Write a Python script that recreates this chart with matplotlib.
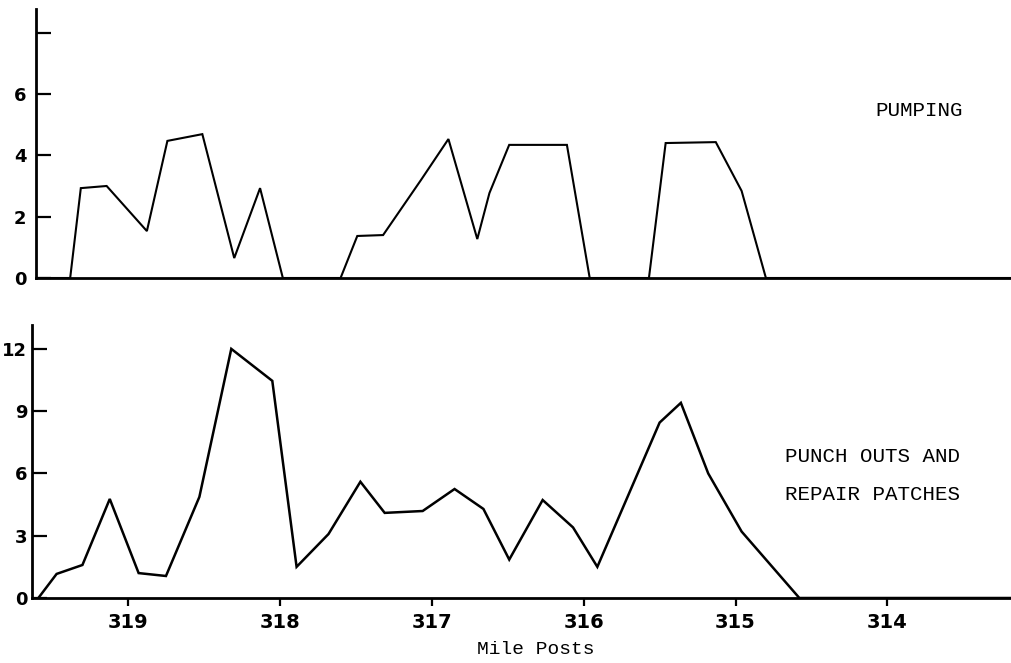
import matplotlib
matplotlib.use("Agg")
import matplotlib.pyplot as plt

# ---- data (mile post, value) ----
pump_miles = [319.62, 319.38, 319.31, 319.14, 318.875, 318.74, 318.51, 318.30, 318.13,
              317.98, 317.60, 317.49, 317.32, 317.07, 316.89, 316.70, 316.62, 316.49,
              316.11, 315.96, 315.57, 315.46, 315.13, 314.96, 314.80, 313.18]
pump_vals = [0, 0, 2.93, 3.0, 1.53, 4.47, 4.69, 0.65, 2.93,
             0, 0, 1.37, 1.4, 3.2, 4.53, 1.27, 2.77, 4.34,
             4.34, 0, 0, 4.4, 4.43, 2.84, 0, 0]

punch_miles = [319.59, 319.47, 319.30, 319.12, 318.93, 318.75, 318.53, 318.32, 318.05,
               317.89, 317.68, 317.47, 317.31, 317.06, 316.85, 316.66, 316.49, 316.27,
               316.07, 315.91, 315.50, 315.36, 315.18, 314.96, 314.58, 313.18]
punch_vals = [0, 1.16, 1.59, 4.77, 1.2, 1.06, 4.87, 12.0, 10.46,
              1.5, 3.08, 5.6, 4.1, 4.19, 5.25, 4.29, 1.85, 4.72,
              3.4, 1.5, 8.45, 9.4, 6.0, 3.2, 0, 0]

pump_ticks = [0, 2, 4, 6, 8]
pump_tick_labels = ["0", "2", "4", "6", ""]
punch_ticks = [0, 3, 6, 9, 12]
mile_ticks = [319, 318, 317, 316, 315, 314]

W, H = 1012, 663
fig = plt.figure(figsize=(W / 100, H / 100), dpi=100)

num_font = dict(family="DejaVu Sans", fontweight="bold")
type_font = dict(family="Liberation Mono")

# ---- top panel: pumping ----
ax1 = fig.add_axes([36 / W, 1 - 278 / H, 1 - 36 / W, (278 - 9) / H])
ax1.plot(pump_miles, pump_vals, color="black", lw=1.5, solid_joinstyle="miter")
ax1.set_xlim(319.605, 313.18)
ax1.set_ylim(0, 8.77)
ax1.set_yticks(pump_ticks)
ax1.set_yticklabels(pump_tick_labels, fontsize=13, **num_font)
ax1.set_xticks([])
ax1.tick_params(axis="y", direction="in", length=11, width=1.6, pad=7)
ax1.text(919, H - 110, "PUMPING", transform=None, ha="center", va="center",
         fontsize=15, **type_font)

# ---- bottom panel: punch outs and repair patches ----
ax2 = fig.add_axes([32 / W, 1 - 598 / H, 1 - 32 / W, (598 - 325) / H])
ax2.plot(punch_miles, punch_vals, color="black", lw=1.8, solid_joinstyle="miter")
ax2.set_xlim(319.632, 313.18)
ax2.set_ylim(0, 13.15)
ax2.set_yticks(punch_ticks)
ax2.set_yticklabels([str(t) for t in punch_ticks], fontsize=13, **num_font)
ax2.set_xticks(mile_ticks)
ax2.set_xticklabels([str(t) for t in mile_ticks], fontsize=14, **num_font)
ax2.tick_params(axis="y", direction="in", length=11, width=1.6, pad=3.5)
ax2.tick_params(axis="x", direction="out", length=6, width=1.6, pad=5)
ax2.text(785, H - 457, "PUNCH OUTS AND", transform=None, ha="left", va="center",
         fontsize=15, **type_font)
ax2.text(785, H - 495, "REPAIR PATCHES", transform=None, ha="left", va="center",
         fontsize=15, **type_font)
ax2.text(536, H - 650, "Mile Posts", transform=None, ha="center", va="center",
         fontsize=14, **type_font)

for ax in (ax1, ax2):
    ax.spines["top"].set_visible(False)
    ax.spines["right"].set_visible(False)
    ax.spines["left"].set_linewidth(2)
    ax.spines["bottom"].set_linewidth(2)
    ax.set_facecolor("none")

fig.savefig("out.png", dpi=100)
